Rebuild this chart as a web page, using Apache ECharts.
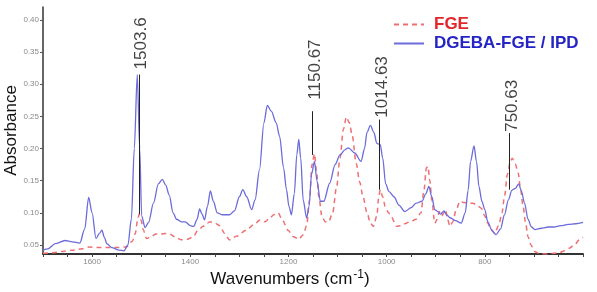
<!DOCTYPE html>
<html>
<head>
<meta charset="utf-8">
<script src="https://cdn.jsdelivr.net/npm/echarts@6/dist/echarts.min.js"></script>
<style>
html,body{margin:0;padding:0;background:#fff;}
#c{width:597px;height:292px;}
</style>
</head>
<body>
<div id="c"></div>
<script>
// ---- data ----
var seriesNames = ['FGE', 'DGEBA-FGE / IPD'];

var fgeData = [
[1700,0.037],[1680,0.038],[1660,0.040],[1640,0.042],[1620,0.044],[1605,0.047],[1590,0.046],[1570,0.046],[1550,0.046],[1530,0.047],
[1518,0.056],[1512,0.068],[1507,0.090],[1504,0.098],[1500,0.088],[1496,0.074],[1489,0.060],[1480,0.063],[1470,0.067],[1460,0.067],
[1450,0.068],[1442,0.067],[1430,0.062],[1418,0.058],[1405,0.059],[1394,0.063],[1385,0.072],[1374,0.079],[1365,0.084],[1360,0.086],
[1350,0.084],[1340,0.080],[1330,0.068],[1320,0.058],[1305,0.064],[1286,0.073],[1270,0.082],[1258,0.089],[1248,0.086],[1240,0.090],
[1230,0.097],[1221,0.100],[1212,0.088],[1201,0.073],[1190,0.063],[1179,0.059],[1170,0.066],[1163,0.080],[1157,0.120],[1152,0.175],
[1147,0.192],[1143,0.165],[1138,0.125],[1132,0.095],[1125,0.086],[1118,0.086],[1110,0.100],[1102,0.140],[1095,0.185],[1088,0.230],
[1082,0.249],[1076,0.240],[1070,0.220],[1062,0.177],[1055,0.148],[1048,0.125],[1040,0.100],[1033,0.084],[1027,0.079],[1020,0.095],
[1016,0.125],[1013,0.136],[1008,0.125],[1003,0.110],[996,0.100],[990,0.093],[980,0.079],[970,0.080],[960,0.084],[950,0.087],
[940,0.090],[930,0.100],[924,0.135],[919,0.170],[916,0.172],[912,0.150],[908,0.120],[902,0.084],[897,0.090],[893,0.102],
[888,0.095],[883,0.100],[880,0.105],[876,0.090],[871,0.079],[866,0.085],[858,0.105],[851,0.118],[843,0.116],[832,0.115],
[824,0.115],[815,0.111],[807,0.107],[800,0.095],[795,0.085],[788,0.075],[780,0.068],[772,0.080],[765,0.100],[760,0.125],
[754,0.160],[748,0.180],[744,0.185],[738,0.176],[732,0.162],[727,0.135],[722,0.110],[717,0.085],[712,0.063],[706,0.050],
[699,0.040],[690,0.037],[676,0.036],[660,0.037],[648,0.038],[638,0.041],[628,0.045],[618,0.050],[605,0.060],[600,0.062]
];

var dgebaData = [
[1700,0.042],[1690,0.044],[1675,0.052],[1655,0.057],[1640,0.055],[1625,0.053],[1615,0.075],[1607,0.124],[1600,0.100],[1592,0.060],
[1585,0.068],[1580,0.073],[1575,0.062],[1570,0.052],[1560,0.046],[1545,0.042],[1535,0.041],[1527,0.050],[1520,0.090],[1514,0.200],
[1508,0.315],[1503,0.200],[1499,0.095],[1492,0.077],[1485,0.085],[1475,0.115],[1465,0.145],[1457,0.152],[1450,0.143],[1443,0.128],
[1435,0.100],[1428,0.090],[1418,0.086],[1410,0.086],[1400,0.080],[1393,0.079],[1386,0.090],[1381,0.106],[1376,0.098],[1371,0.089],
[1365,0.110],[1359,0.134],[1353,0.118],[1345,0.100],[1335,0.097],[1320,0.097],[1310,0.103],[1300,0.125],[1293,0.136],[1285,0.125],
[1275,0.105],[1268,0.120],[1259,0.167],[1250,0.240],[1243,0.267],[1235,0.258],[1225,0.240],[1218,0.219],[1210,0.170],[1204,0.136],
[1199,0.110],[1194,0.097],[1188,0.130],[1183,0.190],[1179,0.214],[1175,0.185],[1170,0.120],[1163,0.092],[1158,0.110],[1153,0.160],
[1147,0.180],[1142,0.150],[1135,0.118],[1128,0.118],[1116,0.146],[1105,0.175],[1095,0.190],[1085,0.198],[1078,0.201],[1065,0.193],
[1052,0.180],[1045,0.200],[1040,0.225],[1033,0.236],[1026,0.225],[1020,0.208],[1013,0.206],[1008,0.185],[1002,0.145],[995,0.133],
[985,0.125],[975,0.112],[963,0.102],[950,0.108],[940,0.115],[928,0.118],[920,0.130],[914,0.141],[908,0.125],[902,0.105],
[896,0.102],[890,0.098],[883,0.103],[878,0.097],[870,0.092],[860,0.088],[848,0.084],[840,0.100],[834,0.135],[829,0.180],
[822,0.204],[817,0.180],[812,0.141],[806,0.118],[800,0.105],[794,0.086],[785,0.072],[777,0.066],[768,0.075],[760,0.097],
[752,0.120],[745,0.135],[738,0.138],[731,0.145],[726,0.135],[719,0.115],[712,0.090],[705,0.078],[698,0.074],[685,0.076],
[670,0.078],[660,0.078],[645,0.080],[630,0.082],[615,0.083],[600,0.085]
];

// peak annotations
var annotLabels = ['1503.6', '1150.67', '1014.63', '750.63'];
var annotX      = [1503.6, 1150.67, 1014.63, 750.63];
var annotLineLo = [0.098, 0.190, 0.136, 0.136];
var annotLineHi = [0.315, 0.258, 0.245, 0.224];
var annotTextAt = [0.323, 0.276, 0.248, 0.226];

// axis ticks
var yTickValues = [0.05, 0.10, 0.15, 0.20, 0.25, 0.30, 0.35, 0.40];
var xLabelValues = [1600, 1400, 1200, 1000, 800];

// ---- chart ----
var FONT = '"Liberation Sans", Arial, sans-serif';
var chart = echarts.init(document.getElementById('c'), null, {renderer: 'canvas'});

var markLines = annotX.map(function (x, i) {
  return [{coord: [x, annotLineLo[i]]}, {coord: [x, annotLineHi[i]]}];
});
var labelOffsets = [[0,1.5],[0,3],[0,3],[0,3]];
var annotPoints = annotX.map(function (x, i) {
  return {
    value: [x, annotTextAt[i]],
    label: {formatter: annotLabels[i], offset: labelOffsets[i]}
  };
});

var option = {
  animation: false,
  backgroundColor: '#ffffff',
  grid: {left: 43, right: 14, top: 7, bottom: 38, containLabel: false, outerBoundsMode: 'none'},
  legend: {
    orient: 'vertical',
    left: 388,
    top: 11,
    itemWidth: 30,
    itemHeight: 12,
    itemGap: 2,
    itemStyle: {opacity: 0},
    textStyle: {fontFamily: FONT, fontWeight: 'bold', fontSize: 17, padding: [0, 0, 0, 5]},
    data: [
      {name: seriesNames[0], textStyle: {color: '#e2272a'}},
      {name: seriesNames[1], textStyle: {color: '#2525c6'}}
    ]
  },
  xAxis: {
    type: 'value',
    inverse: true,
    min: 600,
    max: 1700,
    interval: 50,
    splitLine: {show: false},
    axisLine: {lineStyle: {color: '#333', width: 2}},
    axisTick: {length: 3, lineStyle: {color: '#444', width: 1}},
    axisLabel: {
      color: '#8a8a8a', fontSize: 8, fontFamily: FONT, margin: 4,
      formatter: function (v) { return xLabelValues.indexOf(v) >= 0 ? String(v) : ''; }
    },
    name: '{a|Wavenumbers (cm}{s|-1}{a|)}',
    nameLocation: 'middle',
    nameMoveOverlap: false,
    nameGap: 15,
    nameTextStyle: {
      padding: [0, 46, 0, 0],
      rich: {
        a: {fontFamily: FONT, fontSize: 17, color: '#111', lineHeight: 20},
        s: {fontFamily: FONT, fontSize: 12, color: '#111', verticalAlign: 'top', lineHeight: 20, padding: [0, 0, 12, 1]}
      }
    }
  },
  yAxis: {
    type: 'value',
    min: 0.036,
    max: 0.42,
    splitLine: {show: false},
    axisLine: {show: true, lineStyle: {color: '#333', width: 1.5}},
    axisTick: {show: true, length: 3, customValues: yTickValues, lineStyle: {color: '#555'}},
    axisLabel: {
      customValues: yTickValues,
      color: '#8a8a8a', fontSize: 8, fontFamily: FONT, margin: 4,
      formatter: function (v) { return v.toFixed(2); }
    },
    name: 'Absorbance',
    nameLocation: 'middle',
    nameMoveOverlap: false,
    nameGap: 23,
    nameTextStyle: {fontFamily: FONT, fontSize: 17, color: '#111'}
  },
  series: [
    {
      name: seriesNames[0],
      type: 'line',
      data: fgeData,
      symbol: 'none',
      smooth: 0.3,
      smoothMonotone: 'x',
      lineStyle: {color: '#ee6f72', width: 1.5, type: [5, 4]},
      itemStyle: {color: '#ee6f72'},
      z: 2
    },
    {
      name: seriesNames[1],
      type: 'line',
      data: dgebaData,
      symbol: 'none',
      smooth: 0.3,
      smoothMonotone: 'x',
      lineStyle: {color: '#6b6bdc', width: 1.3},
      itemStyle: {color: '#6b6bdc'},
      z: 3,
      markLine: {
        silent: true,
        symbol: ['none', 'none'],
        label: {show: false},
        lineStyle: {color: '#222', width: 1, type: 'solid'},
        data: markLines
      }
    },
    {
      name: 'annotations',
      type: 'scatter',
      symbolSize: 0,
      silent: true,
      data: annotPoints,
      label: {
        show: true,
        position: 'inside',
        rotate: 90,
        align: 'left',
        verticalAlign: 'middle',
        color: '#111',
        fontFamily: FONT,
        fontSize: 17
      },
      z: 5
    }
  ]
};
chart.setOption(option);
</script>
</body>
</html>
